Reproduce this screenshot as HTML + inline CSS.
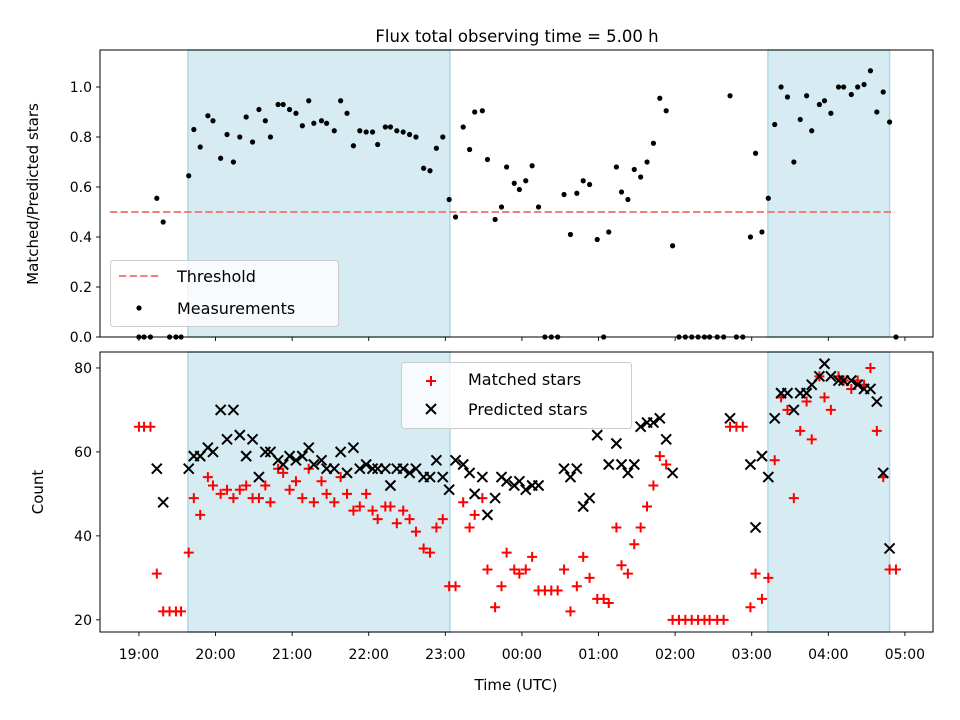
<!DOCTYPE html>
<html><head><meta charset="utf-8"><style>
body{margin:0;background:#fff;}
svg{display:block;font-family:"DejaVu Sans","Liberation Sans",sans-serif;}
</style></head><body>
<svg id="chart" width="960" height="720" viewBox="0 0 960 720">
<text x="517" y="42" font-size="16.5" text-anchor="middle">Flux total observing time = 5.00 h</text>
<g id="topPanel"></g>
<g id="botPanel"></g>
</svg>
<script>
// minutes after 19:00 UTC
const ratioTimes=[0,4,9,14,19,24,29,33,39,43,48,54,58,64,69,74,79,84,89,94,99,103,109,113,118,123,128,133,137,143,147,153,158,163,168,173,178,183,187,193,197,202,207,212,217,223,228,233,238,243,248,254,259,263,269,273,279,284,288,294,298,303,308,313,318,323,328,333,338,343,348,353,359,364,368,374,378,383,388,393,398,403,408,413,418,423,428,433,438,443,447,453,458,463,468,473,479,483,488,493,498,503,508,513,518,523,527,533,537,542,548,552,558,563,568,573,578,583,588,593];
const ratioValues=[0,0,0,0.555,0.46,0,0,0,0.645,0.83,0.76,0.885,0.865,0.715,0.81,0.70,0.80,0.88,0.78,0.91,0.865,0.80,0.93,0.93,0.91,0.895,0.845,0.945,0.855,0.865,0.855,0.825,0.945,0.895,0.765,0.825,0.82,0.82,0.77,0.84,0.84,0.825,0.82,0.81,0.80,0.675,0.665,0.755,0.80,0.55,0.48,0.84,0.75,0.90,0.905,0.71,0.47,0.52,0.68,0.615,0.59,0.625,0.685,0.52,0,0,0,0.57,0.41,0.575,0.625,0.61,0.39,0,0.42,0.68,0.58,0.55,0.67,0.64,0.70,0.775,0.955,0.905,0.365,0,0,0,0,0,0,0,0,0.965,0,0,0.40,0.735,0.42,0.555,0.85,1.0,0.96,0.70,0.87,0.965,0.825,0.93,0.945,0.895,1.0,1.0,0.97,1.0,1.01,1.065,0.90,0.98,0.86,0];
const matchedTimes=[0,4,9,14,19,24,29,33,39,43,48,54,58,64,69,74,79,84,89,94,99,103,109,113,118,123,128,133,137,143,147,153,158,163,168,173,178,183,187,193,197,202,207,212,217,223,228,233,238,243,248,254,259,263,269,273,279,284,288,294,298,303,308,313,318,323,328,333,338,343,348,353,359,364,368,374,378,383,388,393,398,403,408,413,418,423,428,433,438,443,447,453,458,463,468,473,479,483,488,493,498,503,508,513,518,523,527,533,537,542,548,552,558,563,568,573,578,583,588,593];
const matchedValues=[66,66,66,31,22,22,22,22,36,49,45,54,52,50,51,49,51,52,49,49,52,48,56,55,51,53,49,56,48,53,50,48,54,50,46,47,50,46,44,47,47,43,46,44,41,37,36,42,44,28,28,48,42,45,49,32,23,28,36,32,31,32,35,27,27,27,27,32,22,28,35,30,25,25,24,42,33,31,38,42,47,52,59,57,20,20,20,20,20,20,20,20,20,66,66,66,23,31,25,30,58,73,70,49,65,72,63,78,73,70,78,77,75,77,76,80,65,54,32,32];
const predictedTimes=[14,19,39,43,48,54,58,64,69,74,79,84,89,94,99,103,109,113,118,123,128,133,137,143,147,153,158,163,168,173,178,183,187,193,197,202,207,212,217,223,228,233,238,243,248,254,259,263,269,273,279,284,288,294,298,303,308,313,333,338,343,348,353,359,368,374,378,383,388,393,398,403,408,413,418,463,479,483,488,493,498,503,508,513,518,523,527,533,537,542,548,552,558,563,568,573,578,583,588];
const predictedValues=[56,48,56,59,59,61,60,70,63,70,64,59,63,54,60,60,58,57,59,58,59,61,57,58,56,56,60,55,61,56,57,56,56,56,52,56,56,55,56,54,54,58,54,51,58,57,55,50,54,45,49,54,53,52,53,51,52,52,56,54,56,47,49,64,57,62,57,55,57,66,67,67,68,63,55,68,57,42,59,54,68,74,74,70,74,74,76,78,81,78,77,77,77,76,75,75,72,55,37];
const topTicks=[0,0.2,0.4,0.6,0.8,1.0];
const botTicks=[20,40,60,80];
const xTickLabels=["19:00","20:00","21:00","22:00","23:00","00:00","01:00","02:00","03:00","04:00","05:00"];
const shadeSpans=[[38.4,243.6],[492.7,588]];
const threshold=0.5;

const NS="http://www.w3.org/2000/svg";
function el(parent,tag,attrs,txt){const e=document.createElementNS(NS,tag);for(const k in attrs)e.setAttribute(k,attrs[k]);if(txt!==undefined)e.textContent=txt;parent.appendChild(e);return e;}
const L=100,R=933;
const xMin=-30.5,xMax=622;
const X=m=>L+(m-xMin)/(xMax-xMin)*(R-L);
const TP={top:50,bot:337,min:0,max:1.148};
const BP={top:352,bot:632,min:17.1,max:83.8};
const Y=(p,v)=>p.bot-(v-p.min)/(p.max-p.min)*(p.bot-p.top);
const topG=document.getElementById('topPanel'),botG=document.getElementById('botPanel');

function frame(g,p,ticks,fmt,showLabels){
  shadeSpans.forEach(s=>{
    const r=el(g,'rect',{x:X(s[0]),y:p.top,width:X(s[1])-X(s[0]),height:p.bot-p.top,fill:'#add8e6','fill-opacity':0.5,stroke:'#add8e6','stroke-width':1.5});
    
    
  });
  ticks.forEach(t=>{
    const y=Y(p,t);
    el(g,'line',{x1:L-4,x2:L,y1:y,y2:y,stroke:'#000','stroke-width':0.9});
    const tx=el(g,'text',{x:L-8,y:y+5,'font-size':14,'text-anchor':'end'},fmt(t));
    
    
  });
  xTickLabels.forEach((lab,i)=>{
    const x=X(i*60);
    el(g,'line',{x1:x,x2:x,y1:p.bot,y2:p.bot+4,stroke:'#000','stroke-width':0.9});
    if(showLabels){
      const tx=el(g,'text',{x:x,y:p.bot+27,'font-size':14,'text-anchor':'middle'},lab);
      
      
    }
  });
}
function border(g,p){el(g,'rect',{x:L,y:p.top,width:R-L,height:p.bot-p.top,fill:'none',stroke:'#000','stroke-width':1});}

// top panel
frame(topG,TP,topTicks,v=>v.toFixed(1),false);
const th=el(topG,'line',{x1:X(-22.7),x2:X(592),y1:Y(TP,threshold),y2:Y(TP,threshold),stroke:'#f08080','stroke-width':2,'stroke-dasharray':'7.4,3.2'});


ratioTimes.forEach((t,i)=>{
  const c=el(topG,'circle',{cx:X(t),cy:Y(TP,ratioValues[i]),r:2.6,fill:'#000'});
  
  
});
border(topG,TP);
const yl1=el(topG,'text',{x:0,y:0,'font-size':15,'text-anchor':'middle',transform:'translate(38,194) rotate(-90)'},'Matched/Predicted stars');


const lg1=el(topG,'g',{});


el(lg1,'rect',{x:110.5,y:260.5,width:228,height:66,rx:3,fill:'#fff','fill-opacity':0.8,stroke:'#ccc'});
el(lg1,'line',{x1:119,x2:159,y1:276,y2:276,stroke:'#f08080','stroke-width':2,'stroke-dasharray':'7.4,3.2'});
el(lg1,'text',{x:177,y:282,'font-size':16},'Threshold');
el(lg1,'circle',{cx:139,cy:308,r:2.6,fill:'#000'});
el(lg1,'text',{x:177,y:314,'font-size':16},'Measurements');

// bottom panel
frame(botG,BP,botTicks,v=>String(v),true);
matchedTimes.forEach((t,i)=>{
  const x=X(t),y=Y(BP,matchedValues[i]);
  const p=el(botG,'path',{d:`M${x-5},${y}H${x+5}M${x},${y-5}V${y+5}`,stroke:'#ff0000','stroke-width':2});
  
  
});
predictedTimes.forEach((t,i)=>{
  const x=X(t),y=Y(BP,predictedValues[i]);
  const p=el(botG,'path',{d:`M${x-5},${y-5}L${x+5},${y+5}M${x-5},${y+5}L${x+5},${y-5}`,stroke:'#000','stroke-width':2});
  
  
});
border(botG,BP);
const yl2=el(botG,'text',{x:0,y:0,'font-size':15,'text-anchor':'middle',transform:'translate(43,492) rotate(-90)'},'Count');


const xl=el(botG,'text',{x:516,y:690,'font-size':15,'text-anchor':'middle'},'Time (UTC)');


const lg2=el(botG,'g',{});


el(lg2,'rect',{x:401.5,y:362.5,width:230,height:66,rx:3,fill:'#fff','fill-opacity':0.8,stroke:'#ccc'});
el(lg2,'path',{d:'M426,381H436M431,376V386',stroke:'#ff0000','stroke-width':2});
el(lg2,'text',{x:468,y:385,'font-size':16},'Matched stars');
el(lg2,'path',{d:'M426,404L436,414M426,414L436,404',stroke:'#000','stroke-width':2});
el(lg2,'text',{x:468,y:415,'font-size':16},'Predicted stars');
</script>
</body></html>
